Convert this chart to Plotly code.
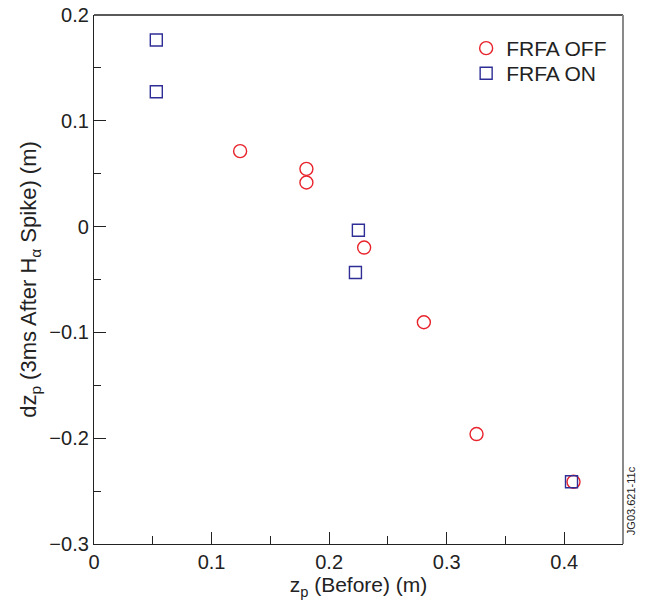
import plotly.graph_objects as go

# FRFA OFF (red circles)
off_x = [0.1243, 0.1807, 0.1807, 0.2298, 0.2806, 0.3254, 0.4079]
off_y = [0.0713, 0.0546, 0.0417, -0.0198, -0.0904, -0.1961, -0.2412]

# FRFA ON (blue squares)
on_x = [0.0530, 0.0530, 0.2249, 0.2224, 0.4062]
on_y = [0.1763, 0.1274, -0.0034, -0.0434, -0.2412]

x_ticks = [0, 0.1, 0.2, 0.3, 0.4]
x_labels = ["0", "0.1", "0.2", "0.3", "0.4"]
y_ticks = [-0.3, -0.2, -0.1, 0, 0.1, 0.2]
y_labels = ["\u22120.3", "\u22120.2", "\u22120.1", "0", "0.1", "0.2"]

RED = "#e8232b"
BLUE = "#2e2e96"
FONT = "Liberation Sans, Arial, Helvetica, sans-serif"

fig = go.Figure()
fig.add_trace(go.Scatter(
    x=off_x, y=off_y, mode="markers", name="FRFA OFF", legend="legend",
    marker=dict(symbol="circle-open", size=13, color=RED, line=dict(width=1.4, color=RED)),
))
fig.add_trace(go.Scatter(
    x=on_x, y=on_y, mode="markers", name="FRFA ON", legend="legend2",
    marker=dict(symbol="square-open", size=12, color=BLUE, line=dict(width=1.4, color=BLUE)),
))

axis_common = dict(
    showline=True, linecolor="#222222", linewidth=1.3,
    ticks="inside", tickcolor="#222222", tickwidth=1.2, ticklen=12,
    showgrid=False, zeroline=False, automargin=False,
    tickfont=dict(family=FONT, size=20, color="#222222"),
)

fig.update_xaxes(
    range=[0, 0.45], tickvals=x_ticks, ticktext=x_labels,
    mirror=False,
    minor=dict(ticks="inside", ticklen=8, tickwidth=1.2, tickcolor="#222222", dtick=0.05, tick0=0, showgrid=False),
    title=dict(text="z<sub>p</sub> (Before) (m)", font=dict(family=FONT, size=21, color="#222222"), standoff=5),
    **axis_common,
)
fig.update_yaxes(
    range=[-0.3, 0.2], tickvals=y_ticks, ticktext=y_labels,
    mirror=False,
    minor=dict(ticks="inside", ticklen=7, tickwidth=1.2, tickcolor="#222222", dtick=0.05, tick0=0, showgrid=False),
    title=dict(text="dz<sub>p</sub> (3ms After H<sub>\u03b1</sub> Spike) (m)", font=dict(family=FONT, size=22, color="#222222"), standoff=6),
    **axis_common,
)

# top border (dark) and right border (gray)
fig.add_shape(type="line", xref="paper", yref="paper", x0=0, x1=1, y0=1, y1=1,
              line=dict(color="#222222", width=1.3))
fig.add_shape(type="line", xref="paper", yref="paper", x0=1, x1=1, y0=0, y1=1,
              line=dict(color="#8a8a8a", width=2))

fig.add_annotation(
    text="JG03.621-11c", xref="paper", yref="paper", x=1.0, y=0.012,
    xanchor="left", yanchor="bottom", textangle=-90, showarrow=False,
    font=dict(family=FONT, size=11, color="#222222"),
)

legend_common = dict(
    xanchor="left", yanchor="top",
    font=dict(family=FONT, size=21, color="#222222"),
    bgcolor="rgba(0,0,0,0)", itemsizing="trace",
)

fig.update_layout(
    width=648, height=603,
    margin=dict(l=94, r=25, t=15, b=59),
    paper_bgcolor="white", plot_bgcolor="white",
    legend=dict(x=0.7035, y=0.9754, **legend_common),
    legend2=dict(x=0.7035, y=0.928, **legend_common),
    showlegend=True,
)

fig.write_html("out.html")
